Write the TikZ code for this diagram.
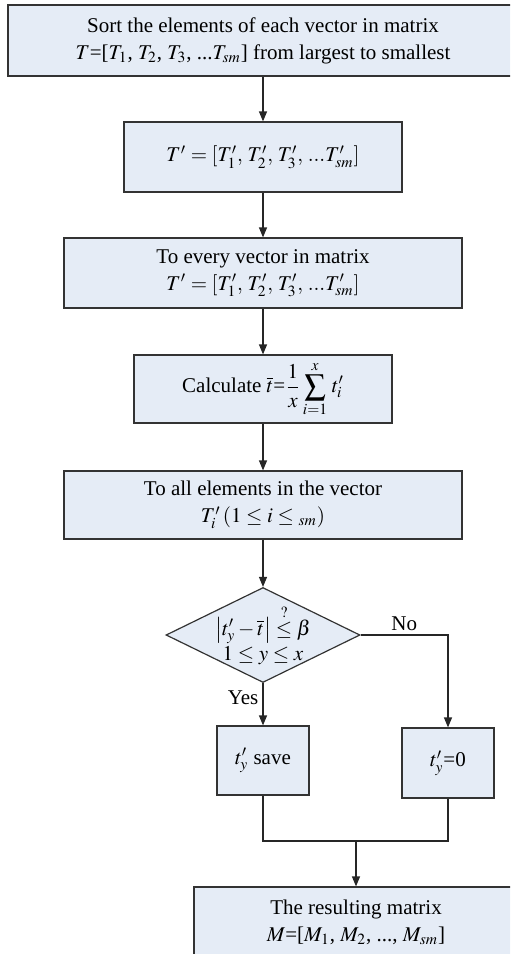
\documentclass[tikz,border=0pt]{standalone}
\usepackage{amsmath}
\usepackage{mathptmx}
\usepackage{fontspec}
\setmainfont{Liberation Serif}
\usetikzlibrary{arrows.meta, positioning, shapes.geometric}
\definecolor{boxfill}{HTML}{E5ECF6}
\definecolor{edgegray}{HTML}{333333}

\begin{document}
\begin{tikzpicture}[
    x=0.5pt, y=-0.5pt,
    >={Triangle[length=5pt, width=4pt]},
    every node/.style={font=\fontsize{10.5}{13.5}\selectfont},
    procbox/.style={draw=edgegray, fill=boxfill, line width=0.6pt,
      align=center, inner sep=0pt},
    decbox/.style={diamond, draw=edgegray, fill=boxfill, line width=0.6pt,
      align=center, inner sep=-2.5pt, aspect=2},
    flow/.style={line width=0.6pt, draw=black!85},
  ]

  % Frame (the flowchart is cut at the right and bottom edge)
  \useasboundingbox (0,0) rectangle (510,954);
  \clip (0,0) rectangle (510,954);

  % === Processing boxes ===
  \node[procbox, minimum width=255pt, minimum height=35.5pt] (sort) at (263,40.5)
    {Sort the elements of each vector in matrix\\
     $T$=[$T_1$, $T_2$, $T_3$, ...$T_{sm}$] from largest to smallest};

  \node[procbox, minimum width=139pt, minimum height=35pt] (tprime) at (263,157)
    {$T' = [T'_1,\, T'_2,\, T'_3,\, ...T'_{sm}]$};

  \node[procbox, minimum width=199pt, minimum height=35pt] (every) at (263,273)
    {To every vector in matrix\\
     $T' = [T'_1,\, T'_2,\, T'_3,\, ...T'_{sm}]$};

  \node[procbox, minimum width=129pt, minimum height=34pt] (calc) at (263,389)
    {Calculate $\displaystyle\overline{t}$=$\displaystyle\frac{1}{x}\sum_{i=1}^{x}\, t'_i$};

  \node[procbox, minimum width=199pt, minimum height=34pt] (allelem) at (263,505)
    {To all elements in the vector\\
     $T'_i\,(1 \leq i \leq {}_{sm})$};

  % === Decision ===
  \node[decbox, minimum width=97pt, minimum height=47.5pt] (check) at (263,635)
    {$\bigl|t'_y - \overline{t}\bigr| \overset{?}{\leq} \beta$\\[-1pt]
     $1 \leq y \leq x$};

  % Branch boxes
  \node[procbox, minimum width=46pt, minimum height=34.5pt] (save) at (263,760.5)
    {$t'_y$ save};
  \node[procbox, minimum width=46pt, minimum height=35pt] (zero) at (448,763)
    {$t'_y$=0};

  % Result
  \node[procbox, minimum width=162pt, minimum height=35pt] (result) at (356,922)
    {The resulting matrix\\
     $M$=[$M_1$, $M_2$, ..., $M_{sm}$]};

  \coordinate (merge) at (356,841);

  % === Connectors ===
  \draw[flow, ->] (sort) -- (tprime);
  \draw[flow, ->] (tprime) -- (every);
  \draw[flow, ->] (every) -- (calc);
  \draw[flow, ->] (calc) -- (allelem);
  \draw[flow, ->] (allelem) -- (check);
  \draw[flow, ->] (check.south) -- node[pos=0.34, left, inner sep=2pt] {Yes} (save.north);
  \draw[flow, ->] (check.east) -| node[pos=0.25, above, inner sep=2pt] {No} (zero.north);
  \draw[flow] (save.south) |- (merge);
  \draw[flow] (zero.south) |- (merge);
  \draw[flow, ->] (merge) -- (result.north);

\end{tikzpicture}
\end{document}
